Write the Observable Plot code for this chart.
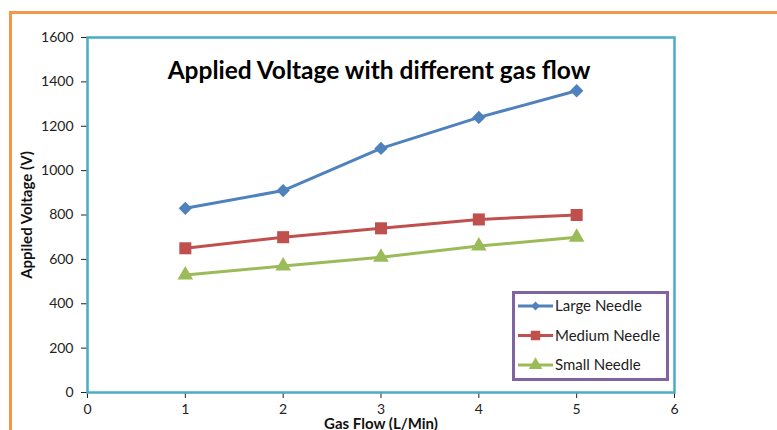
<!DOCTYPE html>
<html>
<head>
<meta charset="utf-8">
<script src="https://cdn.jsdelivr.net/npm/d3@7"></script>
<script src="https://cdn.jsdelivr.net/npm/@observablehq/plot@0.6"></script>
<style>
  body { margin: 0; background: #fff; }
  #wrap { position: relative; width: 777px; height: 430px; overflow: hidden; font-family: Lato, "Open Sans", sans-serif; }
  #border { position: absolute; left: 9px; top: 11px; width: 800px; height: 460px; border-left: 3px solid #f79646; border-top: 3px solid #f79646; box-sizing: border-box; pointer-events: none; }
  #legend { position: absolute; left: 512px; top: 291px; width: 157px; height: 90px; border: 3px solid #8064a2; box-sizing: border-box; background: #fff; }
  svg g[aria-label="y-axis label"], svg g[aria-label="x-axis label"] { font-weight: bold; font-size: 15px; fill: #111; }
</style>
</head>
<body>
<div id="wrap">
  <div id="chart"></div>
  <div id="border"></div>
  <div id="legend"></div>
</div>
<script>
const gasFlow = [1, 2, 3, 4, 5];
const largeNeedle = [830, 910, 1100, 1240, 1360];
const mediumNeedle = [650, 700, 740, 780, 800];
const smallNeedle = [530, 570, 610, 660, 700];
const seriesNames = ["Large Needle", "Medium Needle", "Small Needle"];
const xTicks = [0, 1, 2, 3, 4, 5, 6];
const yTicks = [0, 200, 400, 600, 800, 1000, 1200, 1400, 1600];
const titleText = "Applied Voltage with different gas flow";

const colors = ["#4f81bd", "#c0504d", "#9bbb59"];
const symbols = ["diamond2", "square", "triangle"];
const symbolR = [6, 6.8, 5.8];
const seriesValues = [largeNeedle, mediumNeedle, smallNeedle];

const data = [];
seriesNames.forEach((name, i) => {
  gasFlow.forEach((g, j) => data.push({series: name, x: g, y: seriesValues[i][j]}));
});

const marks = [
  Plot.axisX({ticks: xTicks, tickFormat: d => String(d), tickSize: 6, tickPadding: 6, fontSize: 14, label: "Gas Flow (L/Min)", labelAnchor: "center", labelArrow: "none", labelOffset: 36}),
  Plot.axisY({ticks: yTicks, tickFormat: d => String(d), tickSize: 6, tickPadding: 8, fontSize: 14, label: "Appiled Voltage (V)", labelAnchor: "center", labelArrow: "none", labelOffset: 66}),
  Plot.frame({stroke: "#4bacc6", strokeWidth: 2.5}),
  Plot.text([titleText], {frameAnchor: "top", dx: -2, dy: 24, fontSize: 24.5, fontWeight: "bold", fill: "#000"})
];
seriesNames.forEach((name, i) => {
  const d = data.filter(e => e.series === name);
  marks.push(Plot.line(d, {x: "x", y: "y", stroke: colors[i], strokeWidth: 3}));
  marks.push(Plot.dot(d, {x: "x", y: "y", fill: colors[i], stroke: "none", symbol: () => symbols[i], r: symbolR[i]}));
});

const chart = Plot.plot({
  width: 777,
  height: 430,
  marginLeft: 87,
  marginRight: 103,
  marginTop: 37,
  marginBottom: 38,
  style: {fontFamily: "Lato, 'Open Sans', sans-serif", fontSize: "14px", color: "#222", background: "#fff"},
  x: {domain: [0, 6]},
  y: {domain: [0, 1600]},
  marks
});
document.getElementById("chart").appendChild(chart);

// legend
const lg = d3.select("#legend").append("svg").attr("width", 151).attr("height", 84);
seriesNames.forEach((name, i) => {
  const y = 12 + i * 29.5;
  const g = lg.append("g").attr("transform", `translate(0,${y})`);
  g.append("line").attr("x1", 3).attr("x2", 38).attr("y1", 0).attr("y2", 0).attr("stroke", colors[i]).attr("stroke-width", 3);
  const sym = [d3.symbolDiamond2, d3.symbolSquare, d3.symbolTriangle][i];
  g.append("path").attr("d", d3.symbol(sym, [50, 90, 80][i])()).attr("transform", "translate(20.5,0)").attr("fill", colors[i]);
  g.append("text").attr("x", 40).attr("y", 0).attr("dy", "0.35em").attr("font-size", 15).attr("fill", "#222").attr("font-family", "Lato, 'Open Sans', sans-serif").text(name);
});
</script>
</body>
</html>
